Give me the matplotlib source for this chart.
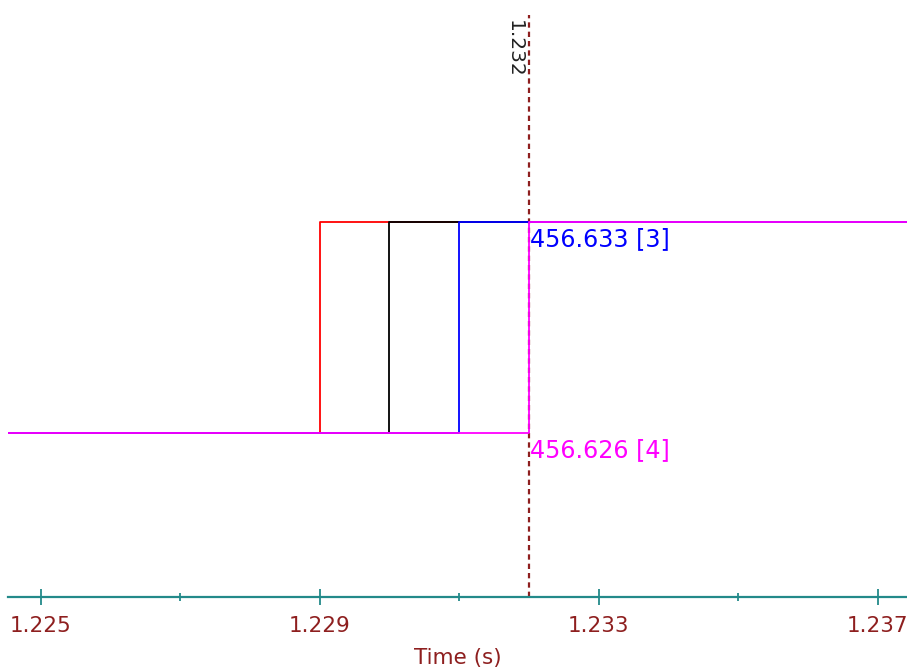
"""Step-change trace of four channels around t = 1.232 s with a cursor marker."""

import matplotlib
matplotlib.use("Agg")
import matplotlib.pyplot as plt

# sample times (s) and the per-channel values at those times
TIME = [1.2240, 1.2290, 1.2300, 1.2310, 1.2320, 1.2380]
CH_RED = [456.626, 456.633, 456.633, 456.633, 456.633, 456.633]
CH_BLACK = [456.626, 456.626, 456.633, 456.633, 456.633, 456.633]
CH_BLUE = [456.626, 456.626, 456.626, 456.633, 456.633, 456.633]
CH_MAGENTA = [456.626, 456.626, 456.626, 456.626, 456.633, 456.633]

CURSOR_T = 1.232
LABEL_HIGH = ("456.633 [3]", 456.633)
LABEL_LOW = ("456.626 [4]", 456.626)

MAJOR_TICKS = [1.225, 1.229, 1.233, 1.237]
MINOR_TICKS = [1.227, 1.231, 1.235]

DARK_RED = "#8e1f1f"
TEAL = "#238a8a"

plt.rcParams["font.family"] = ["DejaVu Sans"]

fig = plt.figure(figsize=(9.07, 6.71), dpi=100)
ax = fig.add_axes([8 / 907, (671 - 597) / 671, 899 / 907, 597 / 671])

series = [
    (CH_RED, "#ff0000"),
    (CH_BLACK, "#000000"),
    (CH_BLUE, "#0000ff"),
    (CH_MAGENTA, "#ff00ff"),
]
for vals, col in series:
    ax.plot(TIME, vals, drawstyle="steps-post", color=col, lw=1.3, zorder=3)

ax.set_xlim(1.224531, 1.23742)
ax.set_ylim(456.620585, 456.640334)

# cursor (drawn under the traces)
ax.axvline(CURSOR_T, ymin=0, ymax=(597 - 15) / 597, color=DARK_RED, lw=1.6,
           dashes=(2.4, 1.8), zorder=2)
ax.annotate(f"{CURSOR_T:.3f}", xy=(CURSOR_T, 1.0), xycoords=("data", "axes fraction"),
            xytext=(-15, -20), textcoords="offset pixels", rotation=270,
            ha="center", va="top", fontsize=14.5, color="#222222")

for (txt, val), col in ((LABEL_HIGH, "#0000ff"), (LABEL_LOW, "#ff00ff")):
    ax.annotate(txt, xy=(CURSOR_T, val), xytext=(1, -5), textcoords="offset pixels",
                ha="left", va="top", fontsize=17.2, color=col, zorder=4)

# axis styling
for side in ("left", "top", "right"):
    ax.spines[side].set_visible(False)
ax.spines["bottom"].set_color(TEAL)
ax.spines["bottom"].set_linewidth(1.6)
ax.set_yticks([])
ax.set_xticks(MAJOR_TICKS)
ax.set_xticks(MINOR_TICKS, minor=True)
ax.set_xticklabels([f"{t:.3f}" for t in MAJOR_TICKS])
ax.tick_params(axis="x", which="major", direction="inout", length=11, width=1.3,
               color=TEAL, labelcolor=DARK_RED, labelsize=15.5, pad=8)
ax.tick_params(axis="x", which="minor", direction="inout", length=5.5, width=1.3,
               color=TEAL)
ax.set_xlabel("Time (s)", fontsize=15.5, color=DARK_RED, labelpad=9)
ax.patch.set_visible(False)

fig.savefig("out.png", dpi=100)
